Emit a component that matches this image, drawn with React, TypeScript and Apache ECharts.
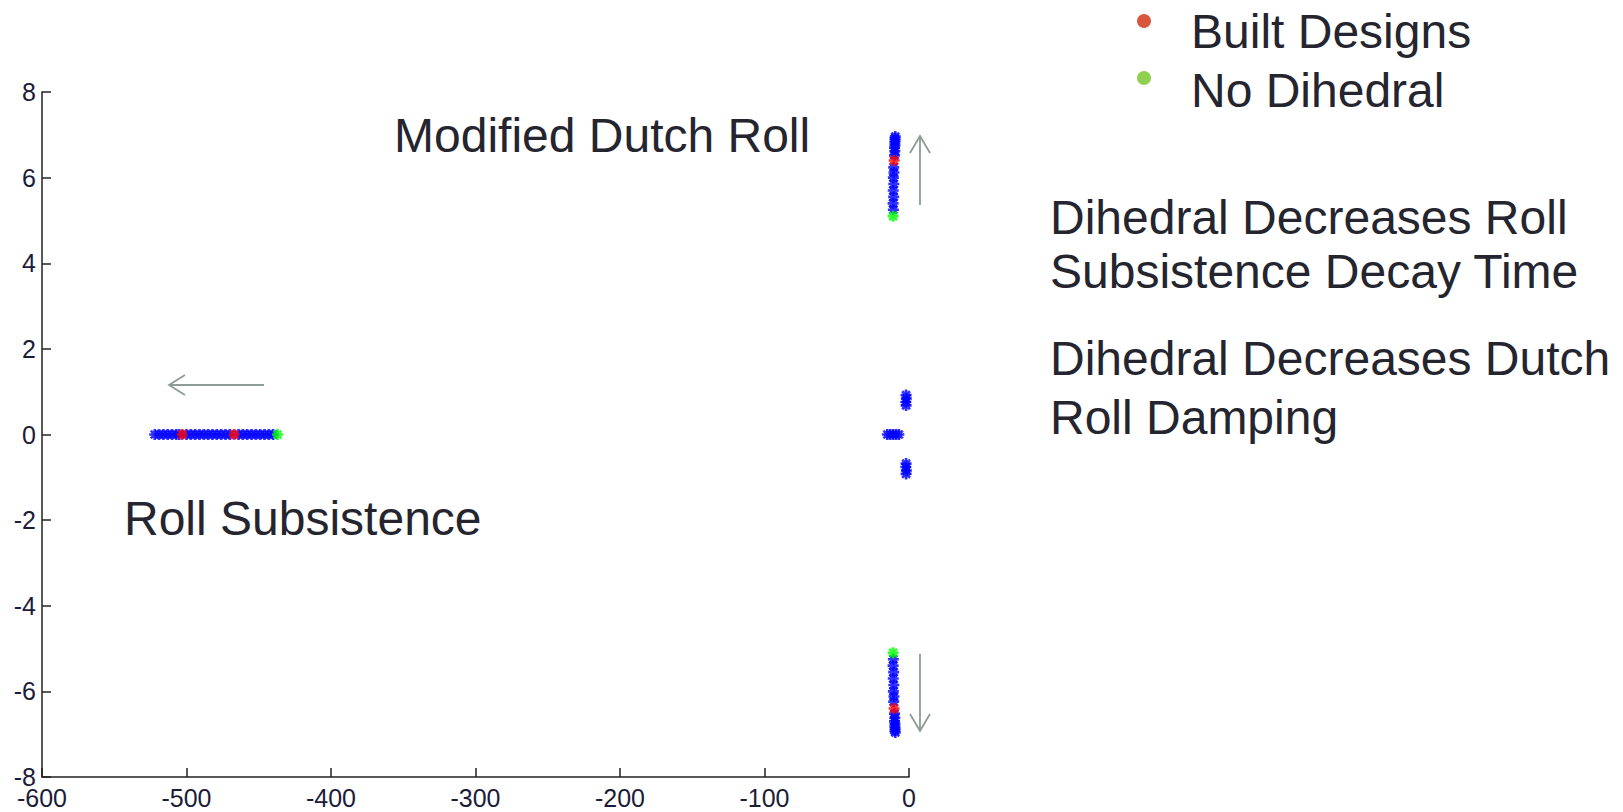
import React, { useEffect, useRef } from "react";
import * as echarts from "echarts";

// ---- data ----
const xTicks = [-600, -500, -400, -300, -200, -100, 0];
const yTicks = [-8, -6, -4, -2, 0, 2, 4, 6, 8];

// Roll subsistence (real axis)
const rollBlueX = [-522, -519, -516, -513, -510, -507, -505, -500, -497, -494, -491, -488, -485, -482, -479, -476, -473, -470, -464, -461, -458, -455, -452, -449, -446, -443, -440];

// Modified Dutch roll, upper branch [re, im]
const dutchUpper: [number, number][] = [
  [-10.8, 5.25], [-11, 5.4], [-10.6, 5.55], [-10.9, 5.7], [-10.5, 5.85], [-10.8, 6.0],
  [-10.4, 6.12], [-10.6, 6.24], [-10.0, 6.52], [-9.8, 6.62], [-10.0, 6.7], [-9.7, 6.76],
  [-9.8, 6.82], [-9.6, 6.87], [-9.7, 6.92], [-9.5, 6.96],
];

// Slow modes near origin
const spiralX = [-15, -13, -11, -9, -7];
const nearPair: [number, number][] = [[-2, 0.68], [-2.2, 0.76], [-1.8, 0.84], [-2, 0.92]];

const builtDesigns: [number, number][] = [[-503, 0], [-467, 0], [-10.3, 6.4], [-10.3, -6.4]];
const noDihedral: [number, number][] = [[-437, 0], [-11, 5.1], [-11, -5.1]];

const legendNames = ["Built Designs", "No Dihedral"];
const legendColors = ["#d9573f", "#8fd14f"];

const blueData: [number, number][] = [
  ...rollBlueX.map((x) => [x, 0] as [number, number]),
  ...dutchUpper,
  ...dutchUpper.map(([x, y]) => [x, -y] as [number, number]),
  ...spiralX.map((x) => [x, 0] as [number, number]),
  ...nearPair,
  ...nearPair.map(([x, y]) => [x, -y] as [number, number]),
];

const ASTERISK =
  "path://M3.8,0H6.2V10H3.8Z M0,3.8H10V6.2H0Z M0.6,2.3L2.3,0.6L9.4,7.7L7.7,9.4Z M7.7,0.6L9.4,2.3L2.3,9.4L0.6,7.7Z";

const FONT = "'Liberation Sans', Arial, sans-serif";
const TXT = "#25252f";
const ARROW = "#8d9c94";
const AXIS_TXT = "#1c1c38";

export default function App() {
  const ref = useRef<HTMLDivElement>(null);
  useEffect(() => {
    if (!ref.current) return;
    const chart = echarts.init(ref.current, undefined, { renderer: "svg" });
    const textEl = (x: number, y: number, s: string) => ({
      type: "text",
      x,
      y,
      style: { text: s, fill: TXT, font: `48px ${FONT}`, verticalAlign: "middle", align: "left" },
    });
    const arrowStyle = { stroke: ARROW, lineWidth: 1.8, fill: null };
    const axisCommon = {
      axisLine: { show: true, onZero: false, lineStyle: { color: "#222", width: 1.5 } },
      axisTick: { show: true, inside: true, length: 9, lineStyle: { color: "#222", width: 1.5 } },
      splitLine: { show: false },
    };
    chart.setOption({
      animation: false,
      backgroundColor: "#ffffff",
      grid: { left: 42, right: 714, top: 92, bottom: 35, containLabel: false },
      xAxis: {
        type: "value",
        min: xTicks[0],
        max: xTicks[xTicks.length - 1],
        interval: 100,
        ...axisCommon,
        axisLabel: { color: AXIS_TXT, fontFamily: FONT, fontSize: 25, margin: 8 },
      },
      yAxis: {
        type: "value",
        min: yTicks[0],
        max: yTicks[yTicks.length - 1],
        interval: 2,
        ...axisCommon,
        axisLabel: { color: AXIS_TXT, fontFamily: FONT, fontSize: 25, margin: 6 },
      },
      legend: {
        data: legendNames.map((n) => ({ name: n, itemStyle: { color: "rgba(0,0,0,0)" } })),
        orient: "vertical",
        left: 1137,
        top: 2,
        icon: "rect",
        itemWidth: 44,
        itemHeight: 14,
        itemGap: 11,
        selectedMode: false,
        textStyle: { color: TXT, fontFamily: FONT, fontSize: 48 },
      },
      series: [
        {
          name: "Designs",
          type: "scatter",
          symbol: ASTERISK,
          symbolSize: 11,
          itemStyle: { color: "#0000ff" },
          data: blueData,
          z: 2,
        },
        {
          name: "Built Designs",
          type: "scatter",
          symbol: ASTERISK,
          symbolSize: 11,
          itemStyle: { color: "#ff0000" },
          data: builtDesigns,
          z: 3,
        },
        {
          name: "No Dihedral",
          type: "scatter",
          symbol: ASTERISK,
          symbolSize: 11,
          itemStyle: { color: "#00ff00" },
          data: noDihedral,
          z: 3,
        },
      ],
      graphic: [
        // legend bullets
        { type: "circle", shape: { cx: 1144, cy: 21, r: 7 }, style: { fill: legendColors[0] } },
        { type: "circle", shape: { cx: 1144, cy: 78, r: 7 }, style: { fill: legendColors[1] } },
        textEl(394, 135, "Modified Dutch Roll"),
        textEl(124, 518, "Roll Subsistence"),
        textEl(1050, 217, "Dihedral Decreases Roll"),
        textEl(1050, 271, "Subsistence Decay Time"),
        textEl(1050, 358, "Dihedral Decreases Dutch"),
        textEl(1050, 417, "Roll Damping"),
        // left arrow
        { type: "line", shape: { x1: 264, y1: 385, x2: 169, y2: 385 }, style: arrowStyle },
        { type: "polyline", shape: { points: [[185, 375], [169, 385], [185, 395]] }, style: arrowStyle },
        // up arrow
        { type: "line", shape: { x1: 920, y1: 205, x2: 920, y2: 136 }, style: arrowStyle },
        { type: "polyline", shape: { points: [[910, 153], [920, 136], [930, 153]] }, style: arrowStyle },
        // down arrow
        { type: "line", shape: { x1: 920, y1: 654, x2: 920, y2: 731 }, style: arrowStyle },
        { type: "polyline", shape: { points: [[910, 714], [920, 731], [930, 714]] }, style: arrowStyle },
      ],
    });
    return () => chart.dispose();
  }, []);
  return (
    <div
      ref={ref}
      style={{ position: "fixed", left: 0, top: 0, width: 1623, height: 812, background: "#fff" }}
    />
  );
}
